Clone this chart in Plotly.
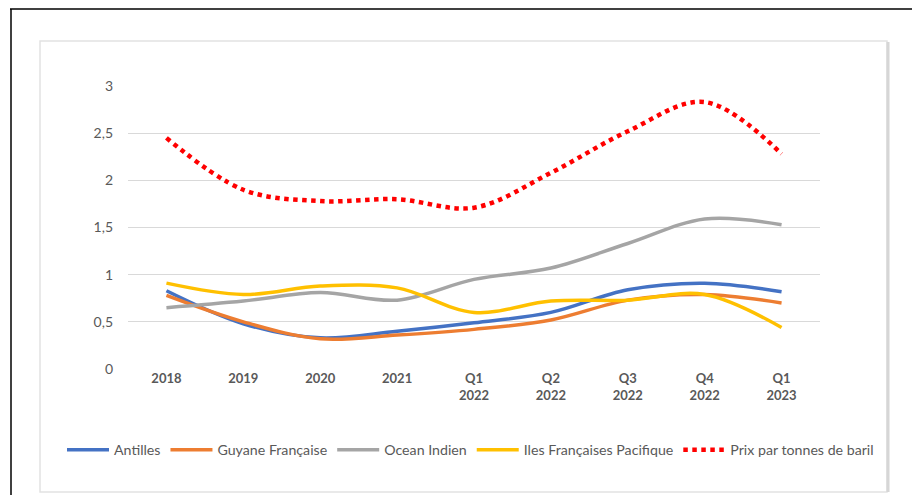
import plotly.graph_objects as go

categories = ["2018", "2019", "2020", "2021", "Q1<br>2022", "Q2<br>2022", "Q3<br>2022", "Q4<br>2022", "Q1<br>2023"]
antilles = [0.83, 0.48, 0.33, 0.40, 0.49, 0.60, 0.84, 0.91, 0.82]
guyane = [0.78, 0.50, 0.32, 0.36, 0.42, 0.52, 0.73, 0.79, 0.70]
ocean_indien = [0.65, 0.72, 0.81, 0.73, 0.95, 1.07, 1.33, 1.59, 1.53]
iles_pacifique = [0.91, 0.79, 0.88, 0.86, 0.60, 0.72, 0.73, 0.79, 0.44]
prix = [2.45, 1.90, 1.78, 1.80, 1.71, 2.08, 2.52, 2.83, 2.28]
y_ticks = [0, 0.5, 1, 1.5, 2, 2.5, 3]
y_ticktext = ["0", "0,5", "1", "1,5", "2", "2,5", "3"]

series = [
    ("Antilles", antilles, "#4472C4", "solid", 3.5),
    ("Guyane Française", guyane, "#ED7D31", "solid", 3.5),
    ("Ocean Indien", ocean_indien, "#A5A5A5", "solid", 3.5),
    ("Iles Françaises Pacifique", iles_pacifique, "#FFC000", "solid", 3.5),
    ("Prix par tonnes de baril", prix, "#FF0000", "dot", 4.5),
]

x_idx = list(range(len(categories)))
fig = go.Figure()
for name, vals, color, dash, w in series:
    fig.add_trace(go.Scatter(
        x=x_idx, y=vals, name=name, mode="lines",
        line=dict(color=color, width=w, dash=dash, shape="spline", smoothing=1.0),
    ))

W, H = 912, 495
L, R, T, B = 128, 820, 86, 369
def px(x):
    return (x - L) / (R - L)
def py(y):
    return (B - y) / (B - T)

shapes = [
    dict(type="line", xref="paper", yref="paper", x0=px(10), x1=px(912), y0=py(9), y1=py(9),
         line=dict(color="black", width=1.5)),
    dict(type="line", xref="paper", yref="paper", x0=px(11), x1=px(11), y0=py(9), y1=py(495),
         line=dict(color="black", width=1.5)),
    dict(type="rect", xref="paper", yref="paper", x0=px(40), x1=px(887), y0=py(492), y1=py(41),
         line=dict(color="#E2E2E2", width=1.5)),
    dict(type="line", xref="paper", yref="paper", x0=px(888), x1=px(888), y0=py(492), y1=py(42),
         line=dict(color="#D6D6D6", width=3)),
]

fig.update_layout(
    width=W, height=H,
    margin=dict(l=L, r=W - R, t=T, b=H - B, pad=0),
    paper_bgcolor="white", plot_bgcolor="white",
    font=dict(family="Lato, 'Open Sans', sans-serif", color="#595959", size=13),
    showlegend=True,
    legend=dict(orientation="h", x=px(62), xanchor="left", y=py(450), yanchor="middle",
                font=dict(size=14.2, color="#595959"), itemwidth=42, tracegroupgap=0,
                bgcolor="rgba(0,0,0,0)"),
    shapes=shapes,
    xaxis=dict(range=[-0.5, 8.5], tickvals=x_idx, ticktext=["<b>%s</b>" % c for c in categories],
               showgrid=False, zeroline=False, showline=False, ticks="",
               tickfont=dict(size=13, color="#595959"), fixedrange=True),
    yaxis=dict(range=[0, 3], tickvals=y_ticks, ticktext=y_ticktext, showgrid=True,
               gridcolor="#D9D9D9", gridwidth=1, zeroline=False, showline=False, ticks="",
               ticklabelstandoff=14, tickfont=dict(size=14, color="#595959"), fixedrange=True),
)

fig.write_html("out.html", config={"displayModeBar": False},
               post_script="document.body.style.margin='0';document.body.style.overflow='hidden';")
